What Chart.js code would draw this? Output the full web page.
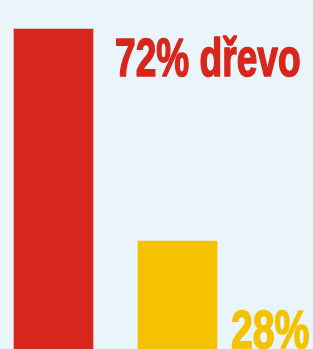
<!DOCTYPE html>
<html>
<head>
<meta charset="utf-8">
<script src="https://cdn.jsdelivr.net/npm/chart.js@4"></script>
<style>
  html, body { margin: 0; padding: 0; background: #eaf5fb; }
  #wrap { width: 313px; height: 349px; position: relative; }
</style>
</head>
<body>
<div id="wrap"><canvas id="myChart"></canvas></div>
<script>
// DATA
const categories = ['dřevo', 'ostatní'];
const shares = [72, 28];
const valueLabels = ['72% dřevo', '28%'];
const barColors = ['#d9261c', '#f5c200'];

// draws the big condensed labels next to the bars
const labelPlugin = {
    id: 'bigLabels',
    afterDatasetsDraw(chart) {
        const ctx = chart.ctx;
        const bars = chart.getDatasetMeta(0).data;
        ctx.save();
        ctx.font = 'bold 53px "Liberation Sans", Arial, sans-serif';
        ctx.textBaseline = 'alphabetic';
        ctx.textAlign = 'left';
        bars.forEach((bar, i) => {
            const x = bar.x + bar.width / 2 + (i === 0 ? 22 : 14);
            const y = i === 0 ? bar.y + 47 : chart.chartArea.bottom + 1;
            ctx.save();
            ctx.translate(x, y);
            ctx.scale(i === 0 ? 0.7 : 0.74, 1);
            ctx.fillStyle = barColors[i];
            ctx.strokeStyle = barColors[i];
            ctx.lineWidth = 1.6;
            ctx.lineJoin = 'round';
            ctx.fillText(valueLabels[i], 0, 0);
            ctx.strokeText(valueLabels[i], 0, 0);
            ctx.restore();
        });
        ctx.restore();
    }
};

const barConfig = {
    type: 'bar',
    data: {
        labels: categories,
        datasets: [{
            data: shares,
            backgroundColor: barColors,
            borderWidth: 0,
            barThickness: 79,
            clip: false
        }]
    },
    options: {
        responsive: true,
        maintainAspectRatio: false,
        animation: false,
        layout: { padding: { left: 53.5, right: 135.5, top: 29, bottom: 2 } },
        plugins: { legend: { display: false }, tooltip: { enabled: false } },
        scales: {
            x: { display: false, offset: false },
            y: { display: false, min: 6, max: 72 }
        }
    },
    plugins: [labelPlugin]
};

function initCharts() {
    const canvas = document.getElementById('myChart');
    new Chart(canvas.getContext('2d'), barConfig);
}

if (document.readyState === 'loading') {
    document.addEventListener('DOMContentLoaded', initCharts);
} else {
    initCharts();
}
</script>
</body>
</html>
